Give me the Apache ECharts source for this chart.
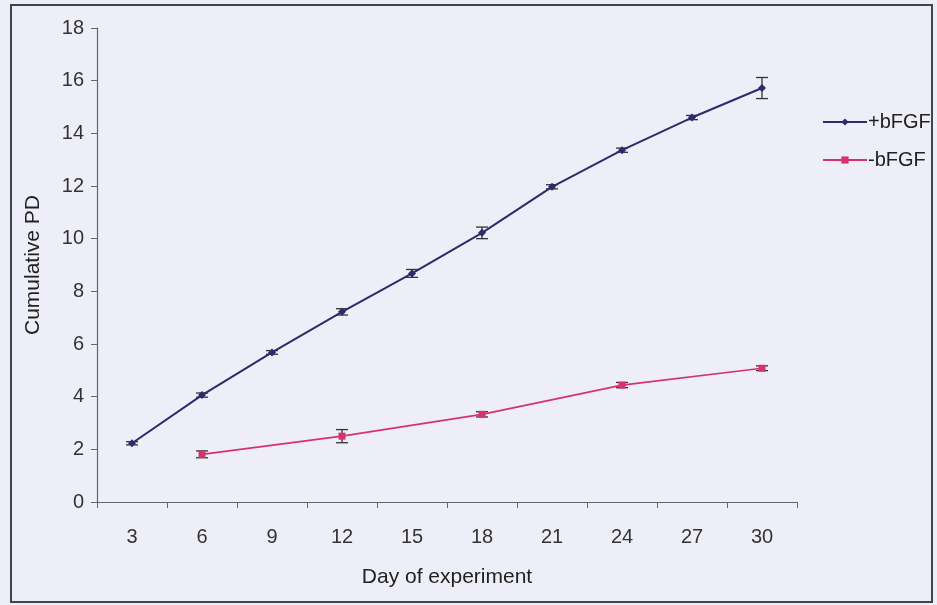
<!DOCTYPE html>
<html><head><meta charset="utf-8">
<script src="https://cdn.jsdelivr.net/npm/echarts@6/dist/echarts.min.js"></script>
<style>html,body{margin:0;padding:0;background:#eeeef9;}#c{width:937px;height:605px;}</style>
</head><body><div id="c"></div>
<script>
const days = ['3','6','9','12','15','18','21','24','27','30'];
const plusBFGF = [2.23, 4.06, 5.68, 7.22, 8.68, 10.22, 11.97, 13.36, 14.6, 15.72];
const plusErr  = [0.06, 0.08, 0.07, 0.12, 0.15, 0.22, 0.08, 0.08, 0.08, 0.4];
const minusBFGF = [null, 1.81, null, 2.5, null, 3.33, null, 4.44, null, 5.08];
const minusErr  = [null, 0.13, null, 0.25, null, 0.1, null, 0.1, null, 0.09];
const yTicks = [0, 2, 4, 6, 8, 10, 12, 14, 16, 18];

const blue = '#2d2b6b', red = '#d6336a';
function errData(vals, errs) {
  const out = [];
  vals.forEach((v, i) => { if (v != null) out.push([i, v - errs[i], v + errs[i]]); });
  return out;
}
function errSeries(name, vals, errs) {
  return {
    type: 'custom', name: name + ' err', silent: true, z: 3,
    data: errData(vals, errs),
    encode: { x: 0, y: [1, 2] },
    renderItem: function (params, api) {
      const x = api.value(0);
      const lo = api.coord([x, api.value(1)]);
      const hi = api.coord([x, api.value(2)]);
      const w = 6;
      const st = { stroke: '#333', lineWidth: 1.3 };
      return { type: 'group', children: [
        { type: 'line', shape: { x1: lo[0], y1: lo[1], x2: hi[0], y2: hi[1] }, style: st },
        { type: 'line', shape: { x1: lo[0]-w, y1: lo[1], x2: lo[0]+w, y2: lo[1] }, style: st },
        { type: 'line', shape: { x1: hi[0]-w, y1: hi[1], x2: hi[0]+w, y2: hi[1] }, style: st }
      ]};
    }
  };
}
const chart = echarts.init(document.getElementById('c'), null, { renderer: 'canvas' });
chart.setOption({
  backgroundColor: '#eeeef9',
  animation: false,
  textStyle: { fontFamily: 'Liberation Sans, Arial, sans-serif' },
  graphic: [
    { type: 'rect', shape: { x: 11, y: 5, width: 921, height: 597 }, style: { fill: 'none', stroke: '#444', lineWidth: 2 }, z: 100 }
  ],
  grid: { left: 97, right: 140, top: 28, bottom: 103 },
  legend: {
    data: ['+bFGF', '-bFGF'], left: 817, top: 107, orient: 'vertical',
    itemWidth: 44, itemHeight: 9, itemGap: 18,
    textStyle: { fontSize: 20, color: '#222', padding: [0, 0, 0, -4] }
  },
  xAxis: {
    type: 'category', data: days, boundaryGap: true,
    name: 'Day of experiment', nameLocation: 'middle', nameGap: 65,
    nameTextStyle: { fontSize: 21, color: '#222' },
    axisLine: { lineStyle: { color: '#666', width: 1.2 } },
    axisTick: { show: true, length: 6, inside: false, lineStyle: { color: '#666' } },
    axisLabel: { fontSize: 20, color: '#333', margin: 25 },
    splitLine: { show: false }
  },
  yAxis: {
    type: 'value', min: yTicks[0], max: yTicks[yTicks.length - 1], interval: 2,
    name: 'Cumulative PD', nameLocation: 'middle', nameGap: 53,
    nameTextStyle: { fontSize: 21, color: '#222' },
    axisLine: { show: true, lineStyle: { color: '#666', width: 1.2 } },
    axisTick: { show: true, length: 6, lineStyle: { color: '#666' } },
    axisLabel: { fontSize: 20, color: '#333', margin: 13 },
    splitLine: { show: false }
  },
  series: [
    { name: '+bFGF', type: 'line', data: plusBFGF, symbol: 'diamond', symbolSize: 8,
      lineStyle: { color: blue, width: 2 }, itemStyle: { color: blue }, z: 4 },
    { name: '-bFGF', type: 'line', data: minusBFGF, connectNulls: true, symbol: 'rect', symbolSize: 7,
      lineStyle: { color: red, width: 1.7 }, itemStyle: { color: red }, z: 4 },
    errSeries('+bFGF', plusBFGF, plusErr),
    errSeries('-bFGF', minusBFGF, minusErr)
  ]
});
</script></body></html>
